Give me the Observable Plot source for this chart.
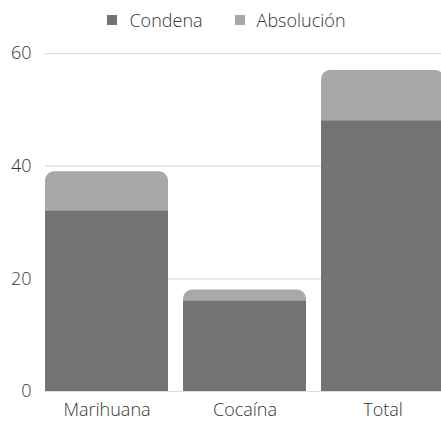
<!DOCTYPE html>
<html>
<head>
<meta charset="utf-8">
<script src="https://cdn.jsdelivr.net/npm/d3@7"></script>
<script src="https://cdn.jsdelivr.net/npm/@observablehq/plot@0.6"></script>
<style>
  html, body { margin: 0; padding: 0; background: #fff; }
  body { width: 441px; height: 421px; overflow: hidden; font-family: "Open Sans", sans-serif; font-weight: 300; }
  #legend { height: 40px; display: flex; justify-content: center; align-items: center; gap: 32px; font-size: 18px; color: #333; padding-left: 12px; box-sizing: border-box; }
  #legend span.item { display: flex; align-items: center; gap: 12px; }
  #legend span.sw { width: 10px; height: 10px; display: inline-block; }
  #chart svg { display: block; }
</style>
</head>
<body>
<div id="legend"></div>
<div id="chart"></div>
<script>
// Sentencias por tipo de droga
const categories = ["Marihuana", "Cocaína", "Total"];
const condena = [32, 16, 48];
const absolucion = [7, 2, 9];
const series = ["Condena", "Absolución"];
const colors = ["#737373", "#a8a8a8"];
const yTicks = [0, 20, 40, 60];

const rows = categories.map((c, i) => ({
  categoria: c,
  condena: condena[i],
  absolucion: absolucion[i],
  total: condena[i] + absolucion[i]
}));

// Leyenda
const legend = document.getElementById("legend");
series.forEach((s, i) => {
  const item = document.createElement("span");
  item.className = "item";
  const sw = document.createElement("span");
  sw.className = "sw";
  sw.style.background = colors[i];
  item.appendChild(sw);
  item.appendChild(document.createTextNode(s));
  legend.appendChild(item);
});

const chart = Plot.plot({
  width: 441,
  height: 381,
  marginTop: 13,
  marginBottom: 30,
  marginLeft: 45,
  marginRight: 0,
  style: { fontFamily: "Open Sans, sans-serif", fontWeight: 300, fontSize: "18px", color: "#333", background: "#fff" },
  x: { domain: categories, range: [45, 444], paddingInner: 0.11, paddingOuter: 0, align: 0, label: null },
  y: { domain: [0, 60], label: null },
  marks: [
    Plot.gridY(yTicks, { stroke: "#dcdcdc", strokeOpacity: 1, strokeWidth: 1.2 }),
    // barra completa (absolución encima) con esquinas redondeadas
    Plot.barY(rows, { x: "categoria", y1: 0, y2: "total", fill: colors[1], rx: 9, ry: 9 }),
    // condena desde la base
    Plot.barY(rows, { x: "categoria", y1: 0, y2: "condena", fill: colors[0] }),
    Plot.axisY(yTicks, { tickSize: 0, tickPadding: 14, fontSize: 18, fill: "#333" }),
    Plot.axisX({ tickSize: 0, tickPadding: 12, fontSize: 18, fill: "#333" })
  ]
});
document.getElementById("chart").appendChild(chart);
</script>
</body>
</html>
